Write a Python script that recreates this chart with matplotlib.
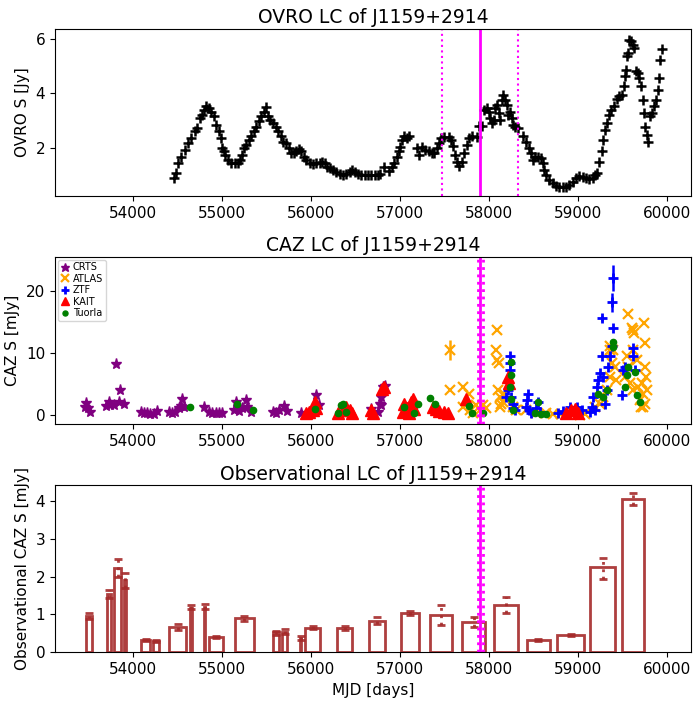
import numpy as np
import matplotlib
matplotlib.use("Agg")
import matplotlib.pyplot as plt

# ---- OVRO 15 GHz light curve ----
ovro_mjd = [54457, 54487, 54506, 54543, 54580, 54618, 54655, 54693, 54719, 54749,
            54779, 54798, 54824, 54854, 54880, 54906, 54936, 54962, 54985, 55000,
            55019, 55037, 55067, 55105, 55142, 55180, 55206, 55228, 55247, 55273,
            55303, 55330, 55356, 55386, 55416, 55442, 55468, 55491, 55517, 55543,
            55573, 55603, 55629, 55659, 55685, 55723, 55753, 55779, 55809, 55835,
            55865, 55891, 55918, 55948, 55985, 56022, 56060, 56097, 56127, 56153,
            56180, 56210, 56247, 56285, 56322, 56359, 56397, 56434, 56464, 56490,
            56528, 56565, 56603, 56640, 56678, 56715, 56753, 56771, 56820, 56873,
            56910, 56936, 56963, 56985, 57000, 57022, 57049, 57079, 57105, 57187,
            57217, 57247, 57285, 57322, 57360, 57386, 57412, 57434, 57460, 57498,
            57547, 57573, 57599, 57622, 57640, 57667, 57697, 57723, 57749, 57779,
            57809, 57861, 57891, 57921, 57947, 57974, 57996, 58015, 58034, 58052,
            58071, 58090, 58109, 58127, 58146, 58161, 58176, 58198, 58217, 58236,
            58255, 58273, 58296, 58322, 58386, 58416, 58446, 58472, 58491, 58521,
            58554, 58584, 58603, 58622, 58640, 58678, 58715, 58753, 58790, 58828,
            58865, 58902, 58940, 58977, 59015, 59052, 59090, 59127, 59165, 59195,
            59210, 59240, 59266, 59284, 59303, 59322, 59344, 59371, 59408, 59434,
            59457, 59494, 59513, 59532, 59539, 59547, 59558, 59577, 59595, 59614,
            59633, 59652, 59670, 59689, 59708, 59727, 59738, 59757, 59772, 59787,
            59809, 59832, 59858, 59877, 59895, 59914, 59925, 59940]
ovro_flux = [0.89, 1.07, 1.44, 1.68, 1.93, 2.17, 2.35, 2.60, 2.72, 3.09,
             3.21, 3.39, 3.52, 3.46, 3.33, 3.15, 2.84, 2.60, 2.35, 1.99,
             1.87, 1.74, 1.56, 1.46, 1.46, 1.46, 1.56, 1.74, 1.99, 2.11,
             2.29, 2.44, 2.60, 2.78, 2.97, 3.15, 3.33, 3.49, 3.15, 3.03,
             2.91, 2.76, 2.60, 2.42, 2.23, 2.17, 1.99, 1.80, 1.80, 1.87,
             1.95, 1.87, 1.68, 1.56, 1.46, 1.41, 1.46, 1.46, 1.50, 1.44,
             1.31, 1.25, 1.19, 1.13, 1.05, 1.01, 1.05, 1.13, 1.19, 1.11,
             1.03, 1.01, 1.01, 1.01, 1.01, 0.99, 1.01, 1.05, 1.29, 1.17,
             1.31, 1.44, 1.68, 1.87, 2.05, 2.29, 2.42, 2.35, 2.42, 1.99,
             1.74, 2.02, 1.93, 1.87, 1.80, 1.83, 1.99, 2.17, 2.35, 2.39,
             2.39, 2.29, 2.07, 1.74, 1.50, 1.34, 1.50, 1.80, 2.11, 2.35,
             2.44, 2.39, 2.81, 2.81, 3.39, 3.46, 3.33, 3.09, 2.91, 3.03,
             3.46, 3.58, 3.27, 3.03, 3.76, 3.94, 3.76, 3.58, 3.21, 3.33,
             3.09, 2.84, 2.76, 2.72, 2.42, 2.23, 1.99, 1.80, 1.56, 1.68,
             1.68, 1.62, 1.44, 1.19, 1.01, 0.83, 0.70, 0.61, 0.56, 0.56,
             0.58, 0.64, 0.76, 0.89, 0.97, 0.95, 0.89, 0.85, 0.89, 1.01,
             1.07, 1.50, 1.87, 2.29, 2.66, 2.91, 3.21, 3.39, 3.52, 3.79,
             3.91, 3.94, 4.25, 4.62, 4.86, 5.35, 5.47, 5.96, 5.90, 5.78,
             5.66, 4.80, 4.74, 4.56, 4.25, 3.76, 3.27, 2.78, 2.48, 2.23,
             3.15, 3.27, 3.52, 3.76, 4.13, 4.56, 5.23, 5.60]

# ---- CAZ (optical) light curves ----
crts_mjd = [53474, 53462, 53492, 53522, 53695, 53726, 53744, 53782, 53808, 53850,
            53846, 53895, 54090, 54120, 54158, 54196, 54233, 54271, 54402, 54440,
            54477, 54515, 54534, 54553, 54571, 54797, 54853, 54891, 54929, 54966,
            55004, 55135, 55162, 55192, 55230, 55267, 55286, 55323, 55568, 55606,
            55643, 55700, 55726, 55888, 56057, 56095, 56677, 56752, 56771, 56786,
            56790, 56805, 56827]
crts_flux = [1.9, 1.3, 1.0, 0.5, 1.4, 2.1, 1.6, 1.6, 8.1, 4.0,
             2.1, 1.8, 0.5, 0.2, 0.2, 0.1, 0.1, 0.6, 0.4, 0.3,
             0.5, 1.0, 1.4, 2.5, 1.3, 1.3, 0.5, 0.3, 0.3, 0.2,
             0.2, 0.8, 2.1, 0.6, 1.0, 2.4, 1.3, 0.5, 0.5, 0.3,
             0.8, 1.4, 0.6, 0.3, 3.2, 1.6, 0.9, 0.5, 1.7, 1.6,
             2.9, 4.5, 4.6]

atlas_mjd = [57563, 57556, 57706, 57774, 57706, 57781, 57856, 57894, 57931, 57969,
             57819, 58089, 58074, 58089, 58111, 58100, 58119, 58138, 58127, 58164,
             58157, 58269, 58307, 58419, 58532, 58645, 58720, 58814, 59020, 59077,
             59189, 59246, 59283, 59321, 59358, 59377, 59396, 59415, 59426, 59358,
             59358, 59565, 59621, 59602, 59629, 59527, 59565, 59583, 59614, 59659,
             59678, 59697, 59715, 59734, 59753, 59764, 59745, 59753, 59704, 59734,
             59772, 59753, 59546, 59621]
atlas_flux = [10.4, 4.0, 4.4, 3.3, 1.3, 0.8, 1.6, 0.8, 1.6, 1.0,
              0.2, 13.7, 10.5, 8.8, 8.3, 4.0, 2.9, 1.8, 1.3, 3.4,
              2.1, 1.3, 0.8, 0.8, 0.2, 0.3, 0.1, 0.1, -0.1, 0.1,
              1.3, 1.8, 2.9, 4.0, 6.1, 8.3, 10.4, 7.7, 5.6, 10.4,
              11.0, 16.2, 13.7, 13.9, 13.1, 6.1, 7.7, 5.1, 4.0, 8.8,
              4.5, 2.4, 5.1, 3.4, 7.7, 6.1, 14.8, 11.5, 1.3, 1.3,
              4.0, 1.8, 9.4, 10.4]

ztf_mjd = [58239, 58239, 58232, 58213, 58194, 58251, 58269, 58288, 58269, 58438,
           58427, 58419, 58449, 58476, 58532, 58551, 58570, 58776, 58833, 58908,
           58983, 59039, 59133, 59152, 59171, 59208, 59227, 59246, 59264, 59264,
           59283, 59321, 59340, 59358, 59377, 59388, 59377, 59388, 59497, 59508,
           59527, 59621, 59621, 59640, 59302, 59189]
ztf_flux = [9.5, 8.3, 7.2, 4.0, 2.9, 2.9, 1.8, 0.8, 1.0, 3.4,
            2.4, 1.3, 0.8, 0.2, 1.0, 2.1, 0.5, 0.2, 0.6, 1.2,
            1.3, 0.8, 0.5, 1.3, 2.9, 4.5, 5.6, 6.7, 9.4, 15.5,
            6.1, 4.0, 7.7, 9.4, 11.0, 22.0, 18.1, 14.0, 3.1, 7.2,
            7.7, 10.7, 9.4, 7.2, 1.8, 0.8]

kait_mjd = [55944, 55982, 56019, 56046, 56057, 56301, 56358, 56396, 56433, 56463,
            56677, 56696, 56801, 56820, 57030, 57049, 57075, 57105, 57124, 57143,
            57162, 57368, 57405, 57443, 57499, 57537, 57736, 58213, 58224, 58870,
            58926, 58964, 59002]
kait_flux = [0.2, 0.5, 0.8, 2.1, 1.0, 0.3, 0.8, 1.3, 0.8, 0.2,
             0.8, 0.3, 4.1, 4.5, 0.5, 1.8, 1.0, 0.3, 2.1, 2.5,
             0.9, 1.3, 0.9, 0.6, 0.5, 0.3, 2.6, 6.1, 5.1, 0.3,
             0.8, 0.9, 0.3]

tuorla_mjd = [54643, 55173, 55350, 56050, 56339, 56358, 56301, 56396, 57049, 57162,
              57199, 57338, 57398, 57774, 57811, 57931, 58243, 58243, 58232, 58251,
              58269, 58551, 58513, 58588, 58645, 59227, 59283, 59321, 59396, 59396,
              59565, 59546, 59527, 59640, 59667, 59697]
tuorla_flux = [1.2, 1.7, 0.8, 0.9, 1.6, 1.7, 0.3, 0.5, 1.3, 0.2,
               1.7, 2.7, 1.8, 1.4, 0.2, 0.3, 8.5, 6.4, 4.5, 2.6,
               0.8, 2.1, 0.2, 0.1, 0.1, 3.4, 2.9, 4.0, 11.7, 10.9,
               7.7, 6.4, 4.5, 6.9, 3.2, 2.0]

# points with visible error bars
err_mjd = [57563, 59388, 59377, 59264]
err_flux = [10.4, 22.0, 18.1, 15.5]
err_size = [1.6, 2.1, 1.5, 0.4]
err_color = ['orange', 'blue', 'blue', 'blue']

# ---- binned observational light curve ----
bin_lo = [53472, 53712, 53790, 53895, 54093, 54228, 54407, 54638, 54797, 54857,
          55141, 55575, 55676, 55875, 55934, 56293, 56652, 57007, 57341, 57700,
          58060, 58423, 58767, 59132, 59491]
bin_hi = [53543, 53757, 53869, 53920, 54194, 54288, 54598, 54660, 54812, 55014,
          55362, 55635, 55731, 55890, 56102, 56462, 56835, 57210, 57581, 57958,
          58322, 58688, 59071, 59419, 59745]
bin_flux = [0.95, 1.53, 2.23, 1.90, 0.32, 0.30, 0.68, 1.18, 1.20, 0.41,
            0.91, 0.53, 0.53, 0.37, 0.65, 0.65, 0.83, 1.04, 0.99, 0.81,
            1.26, 0.33, 0.46, 2.24, 4.05]
bin_err_lo = [0.87, 1.44, 1.99, 1.70, 0.29, 0.27, 0.60, 1.14, 1.14, 0.38,
              0.83, 0.46, 0.48, 0.32, 0.61, 0.60, 0.75, 0.99, 0.73, 0.68,
              1.04, 0.31, 0.44, 1.93, 3.89]
bin_err_hi = [1.03, 1.64, 2.46, 2.10, 0.36, 0.32, 0.75, 1.25, 1.28, 0.44,
              0.96, 0.57, 0.62, 0.42, 0.70, 0.69, 0.94, 1.08, 1.25, 0.92,
              1.45, 0.35, 0.48, 2.49, 4.20]

# flare time and uncertainty
t_flare = 57897
ovro_dt = [57472, 58324]
caz_dt = [57872, 57932]

title_fs = 13.5
lab_fs = 11

fig = plt.figure(figsize=(6.99, 7.02), dpi=100)
left, width, height = 0.0787, 0.910, 0.2379
ax1 = fig.add_axes([left, 0.7208, width, height])
ax2 = fig.add_axes([left, 0.3960, width, height])
ax3 = fig.add_axes([left, 0.0708, width, height])

# OVRO
ax1.plot(ovro_mjd, ovro_flux, '+', color='black', ms=7, mew=1.8)
ax1.axvline(t_flare, color='magenta', lw=2)
for t in ovro_dt:
    ax1.axvline(t, color='magenta', ls=':', lw=1.5)
ax1.set_title('OVRO LC of J1159+2914', fontsize=title_fs, pad=4)
ax1.set_ylabel('OVRO S [Jy]', fontsize=lab_fs)
ax1.set_ylim(0.24, 6.35)
ax1.set_yticks([2, 4, 6])

# CAZ
ax2.plot(crts_mjd, crts_flux, '*', color='purple', ms=8, ls='', label='CRTS')
ax2.plot(atlas_mjd, atlas_flux, 'x', color='orange', ms=7, mew=1.6, ls='', label='ATLAS')
ax2.plot(ztf_mjd, ztf_flux, '+', color='blue', ms=7, mew=2, ls='', label='ZTF')
ax2.plot(kait_mjd, kait_flux, '^', color='red', ms=8, ls='', label='KAIT')
ax2.plot(tuorla_mjd, tuorla_flux, 'o', color='green', ms=4.5, ls='', label='Tuorla')
for m, f, e, c in zip(err_mjd, err_flux, err_size, err_color):
    ax2.errorbar(m, f, yerr=e, fmt='none', ecolor=c, elinewidth=1.8)
ax2.axvline(t_flare, color='magenta', lw=2)
for t in caz_dt:
    ax2.axvline(t, color='magenta', ls=':', lw=2)
ax2.set_title('CAZ LC of J1159+2914', fontsize=title_fs, pad=4)
ax2.set_ylabel('CAZ S [mJy]', fontsize=lab_fs)
ax2.set_ylim(-1.5, 25.4)
ax2.set_yticks([0, 10, 20])
ax2.legend(loc='upper left', fontsize=7, handlelength=1.0, handletextpad=0.3,
           labelspacing=0.15, borderpad=0.25, borderaxespad=0.3, markerscale=0.8)

# binned
bin_lo = np.array(bin_lo)
bin_hi = np.array(bin_hi)
bin_flux = np.array(bin_flux)
centers = (bin_lo + bin_hi) / 2
widths = bin_hi - bin_lo
ax3.bar(centers, bin_flux, width=widths, facecolor='none', edgecolor='brown',
        alpha=0.9, lw=2)
yerr = [bin_flux - np.array(bin_err_lo), np.array(bin_err_hi) - bin_flux]
eb = ax3.errorbar(centers, bin_flux, yerr=yerr, fmt='none', ecolor='brown',
                  alpha=0.9, elinewidth=2, capsize=3, capthick=2)
eb[2][0].set_linestyle(':')
ax3.axvline(t_flare, color='magenta', lw=2)
for t in caz_dt:
    ax3.axvline(t, color='magenta', ls=':', lw=2)
ax3.set_title('Observational LC of J1159+2914', fontsize=title_fs, pad=4)
ax3.set_ylabel('Observational CAZ S [mJy]', fontsize=lab_fs)
ax3.set_xlabel('MJD [days]', fontsize=lab_fs)
ax3.set_ylim(0, 4.41)

for ax in [ax1, ax2, ax3]:
    ax.set_xlim(53124, 60270)
    ax.set_xticks([54000, 55000, 56000, 57000, 58000, 59000, 60000])
    ax.tick_params(labelsize=lab_fs)

plt.savefig('out.png', dpi=100)
plt.close()
